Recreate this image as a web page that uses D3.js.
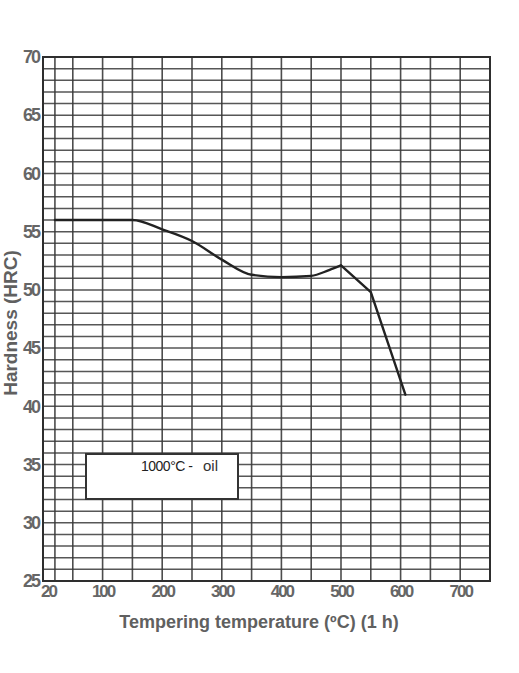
<!DOCTYPE html>
<html>
<head>
<meta charset="utf-8">
<script src="https://cdn.jsdelivr.net/npm/d3@7"></script>
<style>
  html, body { margin: 0; padding: 0; background: #fff; }
  svg { display: block; }
</style>
</head>
<body>
<svg id="chart" width="519" height="673"></svg>
<script>
// ---- data ----
const temperatures = [20, 100, 150, 200, 250, 300, 350, 400, 450, 480, 500, 550, 608];
const hardness     = [56, 56, 56, 55.2, 54.2, 52.6, 51.3, 51.1, 51.2, 51.7, 52.1, 49.8, 41];
const xTickLabels  = [20, 100, 200, 300, 400, 500, 600, 700];
const yTickLabels  = [25, 30, 35, 40, 45, 50, 55, 60, 65, 70];
const xGridValues  = [20, 50, 100, 150, 200, 250, 300, 350, 400, 450, 500, 550, 600, 650, 700];
const yGridValues  = d3.range(26, 70, 1);
const legendText   = ["1000°C -", "oil"];
const xTitle = "Tempering temperature (ºC) (1 h)";
const yTitle = "Hardness (HRC)";

// ---- layout ----
const svg = d3.select("#chart");
const pLeft = 43, pRight = 490, pTop = 57, pBottom = 581;
const x = d3.scaleLinear().domain([0, 750]).range([pLeft, pRight]);
const y = d3.scaleLinear().domain([25, 70]).range([pBottom, pTop]);

const gridColor = "#3a3a3a";

// grid
svg.append("g").selectAll("line").data(yGridValues).join("line")
  .attr("x1", pLeft).attr("x2", pRight)
  .attr("y1", d => y(d)).attr("y2", d => y(d))
  .attr("stroke", gridColor).attr("stroke-width", 1.5).attr("opacity", 0.85);
svg.append("g").selectAll("line").data(xGridValues).join("line")
  .attr("y1", pTop).attr("y2", pBottom)
  .attr("x1", d => x(d)).attr("x2", d => x(d))
  .attr("stroke", gridColor).attr("stroke-width", 1.6).attr("opacity", 0.9);
// frame
svg.append("rect")
  .attr("x", pLeft).attr("y", pTop)
  .attr("width", pRight - pLeft).attr("height", pBottom - pTop)
  .attr("fill", "none").attr("stroke", "#2e2e2e").attr("stroke-width", 2);

// axes (labels only)
const tickFont = "'Liberation Sans', Arial, sans-serif";
const yAxis = svg.append("g").attr("transform", `translate(${pLeft - 1},0)`)
  .call(d3.axisLeft(y).tickValues(yTickLabels).tickSize(0).tickPadding(3).tickFormat(d3.format("d")));
const xAxis = svg.append("g").attr("transform", `translate(0,${pBottom})`)
  .call(d3.axisBottom(x).tickValues(xTickLabels).tickSize(0).tickPadding(4).tickFormat(d3.format("d")));
[yAxis, xAxis].forEach(g => {
  g.select(".domain").remove();
  g.selectAll("text")
    .attr("fill", "#666")
    .style("font-family", tickFont)
    .style("font-weight", "bold")
    .style("letter-spacing", "-2px");
});
yAxis.selectAll("text").style("font-size", "18px");
xAxis.selectAll("text").style("font-size", "17px");
xAxis.selectAll("text").filter(d => d === 20).attr("dx", -7);

// curve: smooth part up to the 500 °C peak, straight segments after it
const pts = temperatures.map((t, i) => [t, hardness[i]]);
const peak = temperatures.indexOf(500);
const smooth = d3.line().x(d => x(d[0])).y(d => y(d[1])).curve(d3.curveMonotoneX);
const straight = d3.line().x(d => x(d[0])).y(d => y(d[1]));
svg.append("path").datum(pts.slice(0, peak + 1))
  .attr("d", smooth)
  .attr("fill", "none").attr("stroke", "#222").attr("stroke-width", 2.4)
  .attr("stroke-linecap", "round");
svg.append("path").datum(pts.slice(peak))
  .attr("d", straight)
  .attr("fill", "none").attr("stroke", "#222").attr("stroke-width", 2.4)
  .attr("stroke-linejoin", "round").attr("stroke-linecap", "round");

// legend box
svg.append("rect")
  .attr("x", 86).attr("y", 454).attr("width", 152).attr("height", 45)
  .attr("fill", "#fff").attr("stroke", "#333").attr("stroke-width", 2);
svg.append("text").attr("x", 141).attr("y", 471)
  .style("font-family", "'Liberation Sans Narrow', 'Liberation Sans', Arial, sans-serif")
  .style("font-size", "14px").style("letter-spacing", "-0.5px")
  .attr("fill", "#222").text(legendText[0]);
svg.append("text").attr("x", 203).attr("y", 471)
  .style("font-family", "'Liberation Sans', Arial, sans-serif").style("font-size", "15px")
  .attr("fill", "#333").text(legendText[1]);

// titles
svg.append("text").attr("x", 259).attr("y", 628).attr("text-anchor", "middle")
  .style("font-family", "'Liberation Sans', Arial, sans-serif").style("font-weight", "bold")
  .style("font-size", "18px").attr("fill", "#606060").text(xTitle);
svg.append("text").attr("transform", "translate(17,323) rotate(-90)").attr("text-anchor", "middle")
  .style("font-family", "'Liberation Sans', Arial, sans-serif").style("font-weight", "bold")
  .style("font-size", "19px").attr("fill", "#606060").text(yTitle);
</script>
</body>
</html>
